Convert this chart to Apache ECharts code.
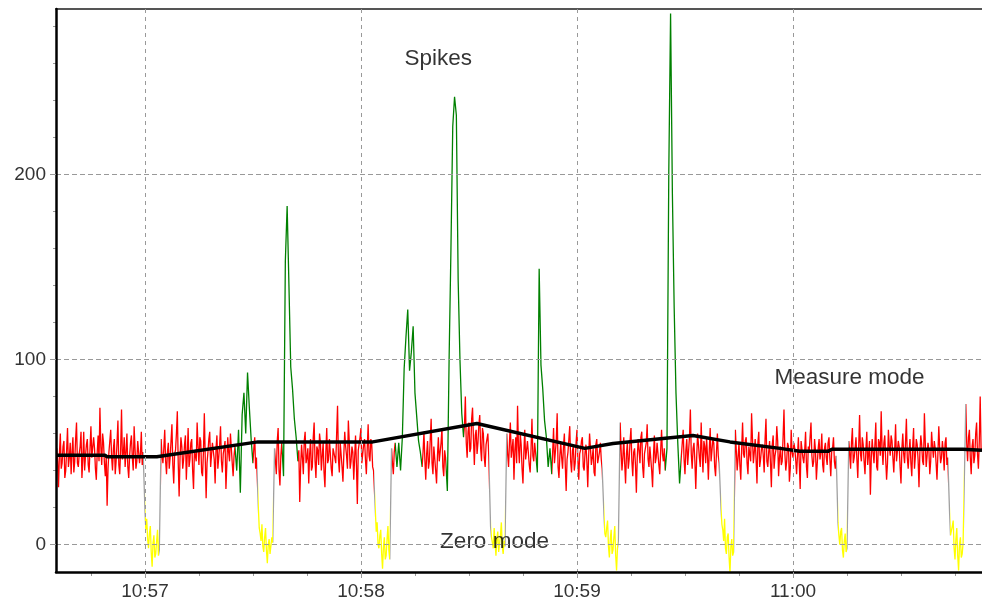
<!DOCTYPE html>
<html><head><meta charset="utf-8">
<script src="https://cdn.jsdelivr.net/npm/echarts@6/dist/echarts.min.js"></script>
<style>html,body{margin:0;padding:0;background:#fff}#c{width:982px;height:603px}</style>
</head><body><div id="c"></div>
<script>
// Time is in seconds after 10:56:00. Each chunk is evenly sampled between its start and end.
// Modes: M = measure mode, S = spike, Z = zero mode
const chunkStarts = [35.5, 60, 64.5, 85.5, 90, 91.5, 96, 98.5, 102.5, 124, 128.5, 130, 137, 144, 148.5, 156, 160.5, 169, 173, 187.5, 192, 205, 209, 220, 224, 252.5, 255.5, 283.5, 288];
const chunkEnds   = [59.5, 64, 85, 89.5, 91, 95.5, 98, 102, 123.5, 128, 129.5, 136.5, 143.5, 148, 155.5, 160, 168.5, 172.5, 187, 191.5, 204.5, 208.5, 219.5, 223.5, 252, 255, 283, 287.5, 292.5];
const chunkModes  = ['M','Z','M','S','M','Z','M','S','M','Z','M','S','M','S','M','Z','M','S','M','Z','M','S','M','Z','M','Z','M','Z','M'];
const chunkValues = [
  [52,45,31,49,60,41,44,53,56,36,40,51,63,42,47,55,38,50,58,39,45,57,66,44,42,49,53,61,36,46,61,40,48,54,57,43,39,52,64,47,46,58,52,41,35,50,59,45,74,53,43,60,55,44,37,48,21,41,50,56,62,47,40,52,57,38,45,55,67,43,38,51,73,46,49,58,42,50,60,42,36,48,55,59,47,40,64,52,41,45,56,57,44,49,61,43,50],
  [19,8,14,3,-2,6,10,-4,-12,1,5,-7,-5,2,8,-6,-3],
  [57,48,44,52,62,45,38,50,55,41,47,56,65,43,33,49,51,60,72,44,26,47,58,53,41,46,54,59,35,48,63,42,46,55,57,40,30,51,52,45,66,53,43,58,56,39,37,50,71,47,25,44,50,57,61,42,42,55,55,46,33,52,59,41,47,54,64,45,39,49,52,56,30,43,58,50,45,60,61,44,37,48,53],
  [40,62,28,70,82,60,93,74,57],
  [44,52,58,41,47],
  [20,9,6,2,11,-1,-4,4,9,-3,-10,0,3,-5,-6,4,1],
  [52,45,38,56,63,40,32,48,55],
  [37,153,183,140,96,84,68,58],
  [45,51,23,42,54,47,38,56,61,44,47,52,33,49,57,40,42,58,66,45,36,53,51,43,60,55,40,48,55,39,31,50,63,44,46,57,58,41,37,52,52,47,44,60,75,46,39,55,56,42,34,49,61,53,48,41,67,56,41,45,53,50,35,47,59,43,22,51,50,58,63,44,43,54,57,46,38,52,65,48,45,57,54,42,40],
  [18,7,12,0,-2,5,8,-5,-13,-1,4,-8,-6,3,10,-3,-8],
  [52,44,38,50,55],
  [42,55,40,58,95,112,127,94,104,118,82,69,56,50],
  [42,50,61,46,35,49,56,41,45,57,68,44,38,53,52,40,33,48,58,45,44,55,63,42,37,51,47],
  [29,102,160,226,242,232,143,100,71],
  [58,64,80,55,47,61,66,50,52,68,74,57,43,59,62,49,55,65,70,52,45,63,60,47,42,54,57,60,48],
  [10,4,3,-2,9,1,-6,3,7,-4,-3,5,12,-1,-5,2,-1],
  [60,49,42,55,66,47,48,57,35,51,58,44,75,53,44,60,54,41,33,50,62,46,46,56,57,43,39,52,68,48,45,55,50],
  [39,149,97,84,67,58,42,52],
  [38,50,63,44,45,56,71,42,36,48,55,47,41,53,60,43,29,46,50,57,64,45,39,51,53,40,44,55,62,46,35,49,51,56,58,42,40,50,54,45,31,48,60,52,43,47,52,39,37,54,57,44,45,50,55,46,41],
  [16,6,4,9,13,-1,-7,3,8,-5,-3,4,10,-6,-14,-2,2],
  [66,52,40,47,58,44,33,49,55,41,46,56,63,45,37,50,52,43,28,47,57,51,44,58,61,42,36,49,50,55,65,46,42,53,54,40,31,48,59,44,47,55,56,43,38,51,62,49,45,52,40],
  [52,200,287,190,128,82,55,33],
  [48,55,62,46,38,51,57,43,44,58,73,49,41,52,55,45,30,47,60,54,47,42,66,50,39,56,53,44,58,48,35,51,63,45,46,57,55,42,37,50,60,48,44],
  [20,11,8,2,14,-2,-5,4,6,-7,-15,-1,3,-6,-4],
  [62,51,40,47,55,43,35,52,66,49,47,56,58,44,38,53,52,45,71,57,44,50,57,46,33,55,61,42,46,52,54,48,39,57,68,45,42,50,56,44,31,54,59,41,48,51,64,56,37,47,53,43,45,58,73,49,40,45,55,53,34,41,62,50,47,55,52,46,38,48,58,44,30,56,55,47,44,51,61,42,36,53,50,58,66,48,42,45,57,51,35,44,52,57,46,50,60,43,39,52,55,47,43,55,58,46,37,50,52,58,45,41,48],
  [12,5,0,7,9,-3,-7,2,6,-4,-2],
  [56,50,41,55,63,44,47,52,58,46,36,53,70,49,45,58,54,45,38,51,61,43,49,56,27,47,57,50,44,54,66,42,40,57,55,48,72,52,43,55,59,46,35,44,62,53,48,59,56,47,39,51,65,45,46,56,53,42,33,52,60,49,44,55,68,47,41,50,57,44,37,53,63,41,48,57,54,46,31,50,59,54,45,43,71,55,42,48,55,51,38,45,61,53,47,56,52,44,35,49,64,52,44,47,56,50,40,55,58,43,47],
  [17,5,6,10,13,-2,-8,3,9,-6,-14,0,4,-7,-5,1,2],
  [76,55,45,58,62,47,38,53,57,44,48,60,66,49,41,56,80,51,52]
];
// Moving average (black line)
const maTimes  = [35.3, 48.9, 49.5, 63.3, 91.4, 123.3, 152.2, 182.2, 190, 212.2, 222.5, 236.4, 241.9, 249.7, 250.8, 287.2, 292.5];
const maValues = [48.3, 48.3, 47.5, 47.5, 55.5, 55.5, 65.4, 52, 54.6, 59, 55.5, 52, 50.4, 50.4, 51.5, 51.5, 51];
// Annotations
const annTexts  = ['Spikes', 'Measure mode', 'Zero mode'];
const annTimes  = [141.5, 255.7, 157.1];
const annValues = [262.5, 89.9, 1.6];
// Axes
const xMin = 35.3, xMax = 292.5, yMin = -14.8, yMax = 289.4;
const xMajor = [60, 120, 180, 240];
const xMinor = [45, 75, 90, 105, 135, 150, 165, 195, 210, 225, 255, 270, 285];
const yMajor = [0, 100, 200];
const yMinor = [20, 40, 60, 80, 120, 140, 160, 180, 220, 240, 260, 280];

const modeColors = {M: '#ff0000', S: '#008000', Z: '#ffff00', T: '#a0a0a0'};

const signal = [];
chunkStarts.forEach((s, k) => {
  const vals = chunkValues[k];
  const step = vals.length > 1 ? (chunkEnds[k] - s) / (vals.length - 1) : 0;
  vals.forEach((v, i) => signal.push([s + i * step, v]));
});

const pieces = [];
chunkStarts.forEach((s, k) => {
  const e = chunkEnds[k];
  pieces.push({min: k === 0 ? 0 : s, max: k === chunkStarts.length - 1 ? 400 : e, color: modeColors[chunkModes[k]]});
  if (k < chunkStarts.length - 1) {
    const a = chunkModes[k], b = chunkModes[k + 1];
    const c = (a === 'Z' || b === 'Z') ? modeColors.T : ((a === 'S' || b === 'S') ? modeColors.S : modeColors.M);
    pieces.push({min: e, max: chunkStarts[k + 1], color: c});
  }
});

function fmtTime(v) {
  const tot = 10 * 60 + 56 + Math.round(v / 60);
  return Math.floor(tot / 60) + ':' + String(tot % 60).padStart(2, '0');
}

const FONT = '"Liberation Sans", Arial, sans-serif';
const chart = echarts.init(document.getElementById('c'), null, {renderer: 'canvas'});
chart.setOption({
  animation: false,
  backgroundColor: '#ffffff',
  grid: {left: 56, right: 0, top: 9, bottom: 31, containLabel: false, outerBoundsMode: 'none'},
  visualMap: {type: 'piecewise', show: false, dimension: 0, seriesIndex: 0, pieces: pieces},
  xAxis: [
    {type: 'value', min: xMin, max: xMax, position: 'bottom', z: 5,
     axisLine: {show: true, onZero: false, lineStyle: {color: '#000', width: 2.5}},
     axisTick: {show: true, customValues: xMajor, length: 6, lineStyle: {color: '#999', width: 1}},
     axisLabel: {show: true, customValues: xMajor, formatter: fmtTime, fontSize: 19, fontFamily: FONT, color: '#333', margin: 10},
     splitLine: {show: true, lineStyle: {color: '#999', width: 1, type: [4, 4]}}},
    {type: 'value', min: xMin, max: xMax, position: 'bottom',
     axisLine: {show: false, onZero: false},
     axisTick: {show: true, customValues: xMinor, length: 4, lineStyle: {color: '#999', width: 1}},
     axisLabel: {show: false}, splitLine: {show: false}},
    {type: 'value', min: xMin, max: xMax, position: 'top',
     axisLine: {show: true, onZero: false, lineStyle: {color: '#555', width: 2}},
     axisTick: {show: false}, axisLabel: {show: false}, splitLine: {show: false}}
  ],
  yAxis: [
    {type: 'value', min: yMin, max: yMax, position: 'left', z: 5,
     axisLine: {show: true, onZero: false, lineStyle: {color: '#000', width: 2.5}},
     axisTick: {show: true, customValues: yMajor, length: 6, lineStyle: {color: '#999', width: 1}},
     axisLabel: {show: true, customValues: yMajor, fontSize: 19, fontFamily: FONT, color: '#333', margin: 10},
     splitLine: {show: true, lineStyle: {color: '#999', width: 1, type: [5, 3]}}},
    {type: 'value', min: yMin, max: yMax, position: 'left',
     axisLine: {show: false, onZero: false},
     axisTick: {show: true, customValues: yMinor, length: 3, lineStyle: {color: '#999', width: 1}},
     axisLabel: {show: false}, splitLine: {show: false}}
  ],
  series: [
    {type: 'line', name: 'signal', data: signal, showSymbol: false, symbol: 'none',
     lineStyle: {width: 1.3}, z: 2, silent: true},
    {type: 'line', name: 'average', data: maTimes.map((t, i) => [t, maValues[i]]), showSymbol: false, symbol: 'none',
     lineStyle: {width: 3.5, color: '#000'}, itemStyle: {color: '#000'}, z: 3, silent: true},
    {type: 'scatter', name: 'notes', data: annTimes.map((t, i) => ({value: [t, annValues[i]], name: annTexts[i]})),
     symbolSize: 1, itemStyle: {color: 'rgba(0,0,0,0)'}, z: 4, silent: true,
     label: {show: true, position: 'inside', formatter: p => p.name, fontSize: 22.5, fontFamily: FONT, color: '#000'}}
  ]
});
</script>
</body></html>
